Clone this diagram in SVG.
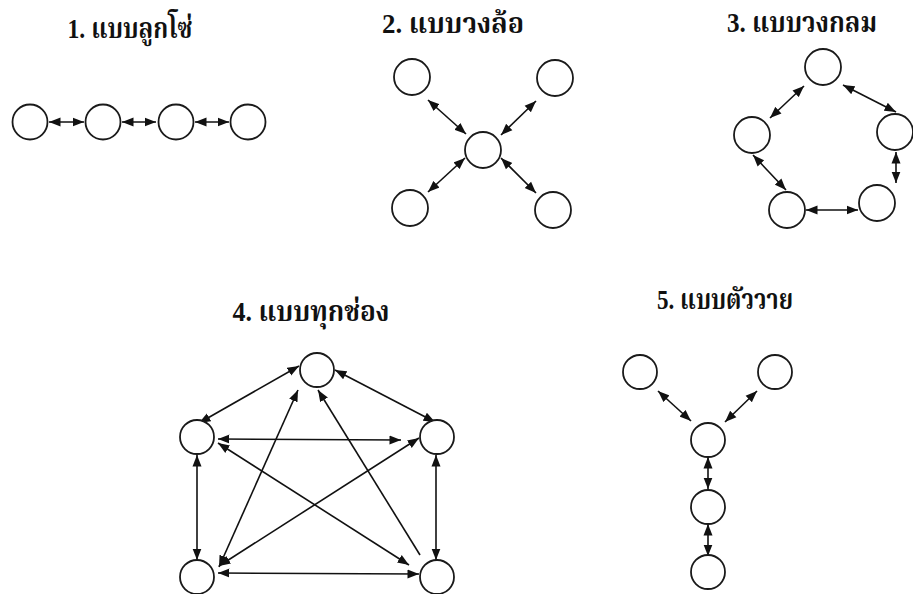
<svg xmlns="http://www.w3.org/2000/svg" width="913" height="594" viewBox="0 0 913 594">
<style>
.t{font-family:"Liberation Serif","Noto Serif Thai","Noto Sans Thai","DejaVu Serif",serif;font-weight:bold;font-size:28px;fill:#111;text-anchor:middle}
.n{fill:#fff;stroke:#1a1a1a;stroke-width:1.8}
.c line{stroke:#111;stroke-width:1.6;marker-start:url(#ah);marker-end:url(#ah)}
.c line.one{marker-end:none}
</style>
<defs>
<marker id="ah" markerUnits="userSpaceOnUse" markerWidth="12" markerHeight="10" refX="11.5" refY="5" orient="auto-start-reverse">
<path d="M0,0.5 L11.5,5 L0,9.5 z" fill="#111"/>
</marker>
</defs>
<rect width="913" height="594" fill="#fff"/>

<text class="t" x="130" y="38" textLength="125" lengthAdjust="spacingAndGlyphs">1. แบบลูกโซ่</text>
<text class="t" x="453" y="33" textLength="142" lengthAdjust="spacingAndGlyphs">2. แบบวงล้อ</text>
<text class="t" x="802" y="32" textLength="150" lengthAdjust="spacingAndGlyphs">3. แบบวงกลม</text>
<text class="t" x="311" y="321" textLength="157" lengthAdjust="spacingAndGlyphs">4. แบบทุกช่อง</text>
<text class="t" x="725" y="309" textLength="136" lengthAdjust="spacingAndGlyphs">5. แบบตัววาย</text>

<g class="c" id="connectors">
<!-- 1 -->
<line x1="49" y1="122" x2="84" y2="122"/>
<line x1="122" y1="122" x2="156" y2="122"/>
<line x1="195" y1="122" x2="229" y2="122"/>
<!-- 2 -->
<line x1="428" y1="100" x2="466" y2="134"/>
<line x1="536" y1="101" x2="501" y2="135"/>
<line x1="465" y1="158" x2="428" y2="192"/>
<line x1="501" y1="158" x2="536" y2="193"/>
<!-- 3 -->
<line x1="804" y1="86" x2="770" y2="118"/>
<line x1="843" y1="85" x2="896" y2="112"/>
<line x1="896" y1="152" x2="896" y2="183"/>
<line x1="806" y1="210" x2="858" y2="210"/>
<line x1="753" y1="155" x2="786" y2="190"/>
<!-- 4 -->
<line x1="299" y1="366" x2="199" y2="423"/>
<line x1="335" y1="370" x2="435" y2="422"/>
<line x1="218" y1="439" x2="401" y2="440"/>
<line x1="197" y1="455" x2="197" y2="560"/>
<line x1="436" y1="455" x2="436" y2="560"/>
<line x1="218" y1="573" x2="419" y2="574"/>
<line x1="298" y1="390" x2="219" y2="567"/>
<line class="one" x1="318" y1="390" x2="420" y2="555"/>
<line x1="218" y1="443" x2="409" y2="565"/>
<line x1="419" y1="438" x2="219" y2="566"/>
<!-- 5 -->
<line x1="658" y1="391" x2="691" y2="421"/>
<line x1="757" y1="391" x2="725" y2="422"/>
<line x1="708" y1="457" x2="708" y2="489"/>
<line x1="708" y1="524" x2="708" y2="556"/>
</g>

<g id="chain">
<circle id="n1a" class="n" cx="30" cy="122" r="17.5"/>
<circle id="n1b" class="n" cx="103" cy="122" r="17.5"/>
<circle id="n1c" class="n" cx="176" cy="122" r="17.5"/>
<circle id="n1d" class="n" cx="248" cy="122" r="17.5"/>
</g>
<g id="wheel">
<circle id="n2a" class="n" cx="412" cy="77" r="18"/>
<circle id="n2b" class="n" cx="555" cy="78" r="18"/>
<circle id="n2c" class="n" cx="483" cy="150" r="18"/>
<circle id="n2d" class="n" cx="410" cy="208" r="18"/>
<circle id="n2e" class="n" cx="553" cy="210" r="18"/>
</g>
<g id="circle">
<circle id="n3a" class="n" cx="823" cy="67" r="18"/>
<circle id="n3b" class="n" cx="752" cy="135" r="18"/>
<circle id="n3c" class="n" cx="895" cy="132" r="18"/>
<circle id="n3d" class="n" cx="787" cy="210" r="18"/>
<circle id="n3e" class="n" cx="877" cy="203" r="18"/>
</g>
<g id="allchannel">
<circle id="n4a" class="n" cx="317" cy="370" r="17"/>
<circle id="n4b" class="n" cx="197" cy="437" r="17"/>
<circle id="n4c" class="n" cx="437" cy="437" r="17"/>
<circle id="n4d" class="n" cx="197" cy="577" r="17"/>
<circle id="n4e" class="n" cx="437" cy="577" r="17"/>
</g>
<g id="ytype">
<circle id="n5a" class="n" cx="640" cy="372" r="17"/>
<circle id="n5b" class="n" cx="775" cy="372" r="17"/>
<circle id="n5c" class="n" cx="708" cy="440" r="17"/>
<circle id="n5d" class="n" cx="708" cy="507" r="17"/>
<circle id="n5e" class="n" cx="708" cy="572" r="17"/>
</g>
</svg>
